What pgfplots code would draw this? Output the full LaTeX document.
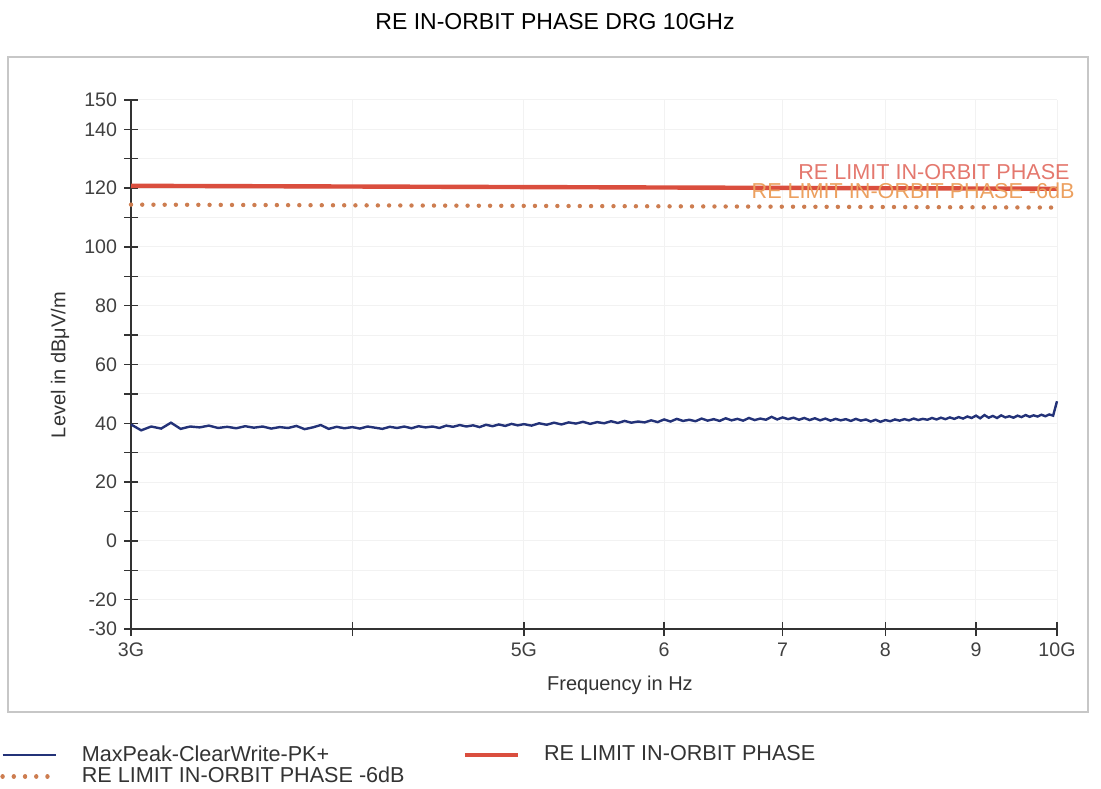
\documentclass[border=0pt]{standalone}
\usepackage{fontspec}
\setmainfont{Liberation Sans}
\usepackage{pgfplots}
\pgfplotsset{compat=1.18}
\definecolor{tracec}{RGB}{35,50,120}
\definecolor{limred}{RGB}{218,78,62}
\definecolor{limorg}{RGB}{205,125,80}
\definecolor{labred}{RGB}{228,120,110}
\definecolor{laborg}{RGB}{236,160,95}
\begin{document}
\begin{tikzpicture}
\useasboundingbox (-65.5bp,-80bp) rectangle (485bp,314.5bp);
\draw[black!22, line width=0.8bp] (-61.5bp,-41.5bp) rectangle (478.5bp,286bp);
\node[font=\fontsize{11.5bp}{13bp}\selectfont] at (212bp,303.5bp) {RE IN-ORBIT PHASE DRG 10GHz};
\begin{axis}[
  at={(0,0)}, anchor=south west,
  scale only axis, width=463bp, height=264.5bp,
  xmode=log, xmin=3, xmax=10, ymin=-30, ymax=150,
  axis lines*=left,
  axis line style={black!80, line width=0.8bp},
  tick align=center, major tick length=7bp,
  tick style={black!80, line width=0.7bp},
  xtick={3,4,5,6,7,8,9,10},
  xticklabels={3G,,5G,6,7,8,9,10G},
  ytick={-30,-20,-10,0,10,20,30,40,50,60,70,80,90,100,110,120,130,140,150},
  yticklabels={-30,-20,,0,,20,,40,,60,,80,,100,,120,,140,150},
  minor tick num=0,
  log ticks with fixed point,
  ticklabel style={font=\fontsize{9.8bp}{11bp}\selectfont, text=black!75},
  grid=major, major grid style={black!5, line width=0.5bp},
  xlabel={Frequency in Hz}, ylabel={Level in dBμV/m},
  label style={font=\fontsize{10bp}{12bp}\selectfont, text=black!80},
  xlabel style={at={(axis description cs:0.528,0)}, anchor=center, yshift=-28bp},
  ylabel style={at={(axis description cs:-0.0767,0.499)}, anchor=center},
  clip=false,
  legend columns=2,
  legend cell align=left,
  legend image code/.code={\draw[#1] (0bp,0bp) -- (26.5bp,0bp);},
  legend style={at={(axis description cs:-0.1415,-0.212)}, anchor=north west,
    draw=none, fill=none, inner sep=0pt,
    font=\fontsize{10.8bp}{12bp}\selectfont, text=black!80,
    row sep=-2.5bp,
    nodes={inner sep=2bp},
    /tikz/every odd column/.append style={column sep=10bp},
    /tikz/every even column/.append style={column sep=27bp}},
]
\addplot[tracec, line width=1.2bp] coordinates {
(3.00,39.6)(3.04,37.6)(3.08,38.9)(3.12,38.2)(3.16,40.2)(3.20,38.1)(3.24,38.9)(3.28,38.6)(3.32,39.2)(3.36,38.4)
(3.40,38.8)(3.44,38.3)(3.48,39.0)(3.52,38.5)(3.56,38.9)(3.60,38.2)(3.64,38.7)(3.68,38.4)(3.72,39.1)(3.76,38.0)
(3.80,38.6)(3.84,39.4)(3.88,38.1)(3.92,38.8)(3.96,38.3)(4.00,38.7)(4.04,38.2)(4.08,38.9)(4.12,38.5)(4.16,38.1)
(4.20,38.8)(4.24,38.4)(4.28,38.9)(4.32,38.3)(4.36,39.0)(4.40,38.6)(4.44,38.9)(4.48,38.4)(4.52,39.2)(4.56,38.8)
(4.60,39.4)(4.64,38.9)(4.68,39.3)(4.72,38.7)(4.76,39.5)(4.80,39.0)(4.84,39.6)(4.88,39.1)(4.92,39.8)(4.96,39.3)
(5.00,39.7)(5.05,39.2)(5.10,40.0)(5.15,39.5)(5.20,40.2)(5.25,39.6)(5.30,40.3)(5.35,39.9)(5.40,40.5)(5.45,39.8)
(5.50,40.4)(5.55,40.0)(5.60,40.7)(5.65,40.1)(5.70,40.8)(5.75,40.2)(5.80,40.6)(5.85,40.3)(5.90,41.0)(5.95,40.4)
(6.00,41.3)(6.05,40.6)(6.10,41.5)(6.15,40.8)(6.20,41.2)(6.25,40.7)(6.30,41.6)(6.35,40.9)(6.40,41.4)(6.45,40.8)
(6.50,41.7)(6.55,41.0)(6.60,41.5)(6.65,40.9)(6.70,41.8)(6.75,41.1)(6.80,41.6)(6.85,41.2)(6.90,42.2)(6.95,41.3)
(7.00,42.0)(7.05,41.4)(7.10,41.9)(7.15,41.2)(7.20,41.8)(7.25,41.1)(7.30,41.7)(7.35,41.0)(7.40,41.6)(7.45,40.9)
(7.50,41.5)(7.55,41.0)(7.60,41.4)(7.65,40.8)(7.70,41.5)(7.75,40.9)(7.80,41.3)(7.85,40.6)(7.90,41.2)(7.95,40.5)
(8.00,41.1)(8.05,40.7)(8.10,41.3)(8.15,40.9)(8.20,41.4)(8.25,41.0)(8.30,41.6)(8.35,41.1)(8.40,41.5)(8.45,41.2)
(8.50,41.8)(8.55,41.3)(8.60,41.9)(8.65,41.4)(8.70,42.0)(8.75,41.5)(8.80,42.1)(8.85,41.6)(8.90,42.3)(8.95,41.8)
(9.00,42.6)(9.05,41.7)(9.10,42.8)(9.15,41.9)(9.20,42.5)(9.25,41.8)(9.30,42.7)(9.35,42.0)(9.40,42.4)(9.45,41.9)
(9.50,42.6)(9.55,42.1)(9.60,42.8)(9.65,42.2)(9.70,42.7)(9.75,42.3)(9.80,42.9)(9.85,42.4)(9.90,43.0)(9.95,42.6)
(10.00,47.5)
};
\addlegendentry{MaxPeak-ClearWrite-PK+}
\addplot[limred, line width=2.2bp] coordinates {(3,120.8)(10,119.8)};
\addlegendentry{RE LIMIT IN-ORBIT PHASE}
\addplot[limorg, line width=2.2bp, line cap=round, dash pattern=on 0.01bp off 5.6bp] coordinates {(3,114.4)(10,113.4)};
\addlegendentry{RE LIMIT IN-ORBIT PHASE -6dB}
\end{axis}
\node[anchor=east, text=labred, font=\fontsize{10.8bp}{12bp}\selectfont, inner sep=0pt] at (469.5bp,228.5bp) {RE LIMIT IN-ORBIT PHASE};
\node[anchor=east, text=laborg, font=\fontsize{10.8bp}{12bp}\selectfont, inner sep=0pt] at (472bp,219bp) {RE LIMIT IN-ORBIT PHASE -6dB};
\end{tikzpicture}
\end{document}
